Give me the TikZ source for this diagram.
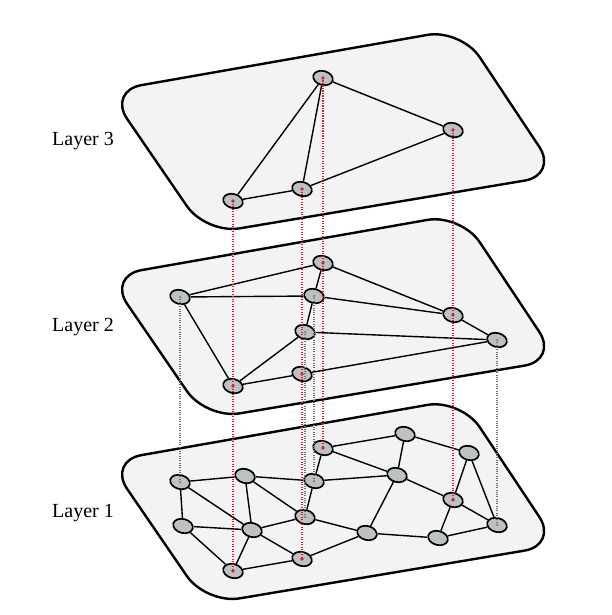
\documentclass[tikz,border=0pt]{standalone}
\usepackage{fontspec}
\setmainfont{Liberation Serif}
\usetikzlibrary{shapes.geometric}
\definecolor{planefill}{RGB}{243,243,245}
\definecolor{nodefill}{RGB}{188,194,194}
\definecolor{linkred}{RGB}{220,30,40}
\definecolor{linkgray}{RGB}{110,115,115}
\tikzset{
 plane/.style={draw=black, line width=2.4pt, fill=planefill, rounded corners=34pt, line join=round},
 vtx/.style={ellipse, draw=black, line width=1.7pt, fill=nodefill, minimum width=20pt, minimum height=14pt, inner sep=0pt, rotate=-15},
 edge/.style={draw=black, line width=1.4pt},
 redlink/.style={draw=linkred, line width=1.5pt, dash pattern=on 1.2pt off 1.3pt},
 graylink/.style={draw=linkgray, line width=1.1pt, dash pattern=on 1pt off 1.3pt},
 lbl/.style={font=\fontsize{20}{24}\selectfont, anchor=base west, inner sep=0pt}
}
\begin{document}
\begin{tikzpicture}[x=1pt,y=-1pt]
\useasboundingbox (0,0) rectangle (612,615);
% planes
\foreach \dy in {0,185,370}{
  \draw[plane] (284.5,60+\dy) -- (461,29+\dy) -- (558,175+\dy) -- (206,234+\dy) -- (108,91+\dy) -- cycle;
}
% labels
\node[lbl] (t3) at (52,145) {Layer 3};
\node[lbl] (t2) at (52,331) {Layer 2};
\node[lbl] (t1) at (52,517) {Layer 1};
% layer 3 nodes
\node[vtx] (A3) at (323,78) {};
\node[vtx] (B3) at (453,130) {};
\node[vtx] (C3) at (302,189) {};
\node[vtx] (D3) at (233,201) {};
% layer 2 nodes
\node[vtx] (a2) at (323,263) {};
\node[vtx] (b2) at (180,297) {};
\node[vtx] (c2) at (314,296) {};
\node[vtx] (d2) at (453,315) {};
\node[vtx] (e2) at (305,332) {};
\node[vtx] (f2) at (497,340) {};
\node[vtx] (g2) at (302,374) {};
\node[vtx] (h2) at (233,386) {};
% layer 1 nodes
\node[vtx] (n1) at (323,448) {};
\node[vtx] (n2) at (405,434) {};
\node[vtx] (n3) at (469,453) {};
\node[vtx] (n4) at (180,482) {};
\node[vtx] (n5) at (245,476) {};
\node[vtx] (n6) at (314,481) {};
\node[vtx] (n7) at (397,475) {};
\node[vtx] (n8) at (453,500) {};
\node[vtx] (n9) at (305,517) {};
\node[vtx] (n10) at (183,526) {};
\node[vtx] (n11) at (252,530) {};
\node[vtx] (n12) at (367,533) {};
\node[vtx] (n13) at (497,525) {};
\node[vtx] (n14) at (438,538) {};
\node[vtx] (n15) at (302,559) {};
\node[vtx] (n16) at (233,571) {};
% edges
\foreach \u/\v in {D3/A3,C3/A3,A3/B3,B3/C3,C3/D3,
  b2/a2,b2/c2,a2/c2,a2/d2,c2/d2,c2/e2,e2/f2,d2/f2,b2/h2,e2/h2,h2/g2,g2/f2,
  n4/n5,n4/n10,n4/n11,n5/n6,n5/n11,n5/n9,n6/n1,n6/n7,n6/n9,n1/n2,n1/n7,n2/n7,n2/n3,
  n3/n8,n3/n13,n7/n8,n7/n12,n8/n14,n8/n13,n14/n13,n12/n14,n9/n11,n9/n12,n10/n11,
  n10/n16,n11/n16,n11/n15,n16/n15,n15/n12}
  \draw[edge] (\u) -- (\v);
% inter-layer links
\foreach \u/\v in {b2/n4,c2/n6,e2/n9,f2/n13}
  \draw[graylink] (\u.center) -- (\v.center);
\foreach \u/\v in {A3/a2,a2/n1,B3/d2,d2/n8,C3/g2,g2/n15,D3/h2,h2/n16}
  \draw[redlink] (\u.center) -- (\v.center);
% centre dots
\foreach \n in {b2,c2,e2,f2,n4,n6,n9,n13}
  \fill[linkgray!80] (\n.center) circle (1.5pt);
\foreach \n in {A3,B3,C3,D3,a2,d2,g2,h2,n1,n8,n15,n16}
  \fill[linkred] (\n.center) circle (1.9pt);
\end{tikzpicture}
\end{document}
